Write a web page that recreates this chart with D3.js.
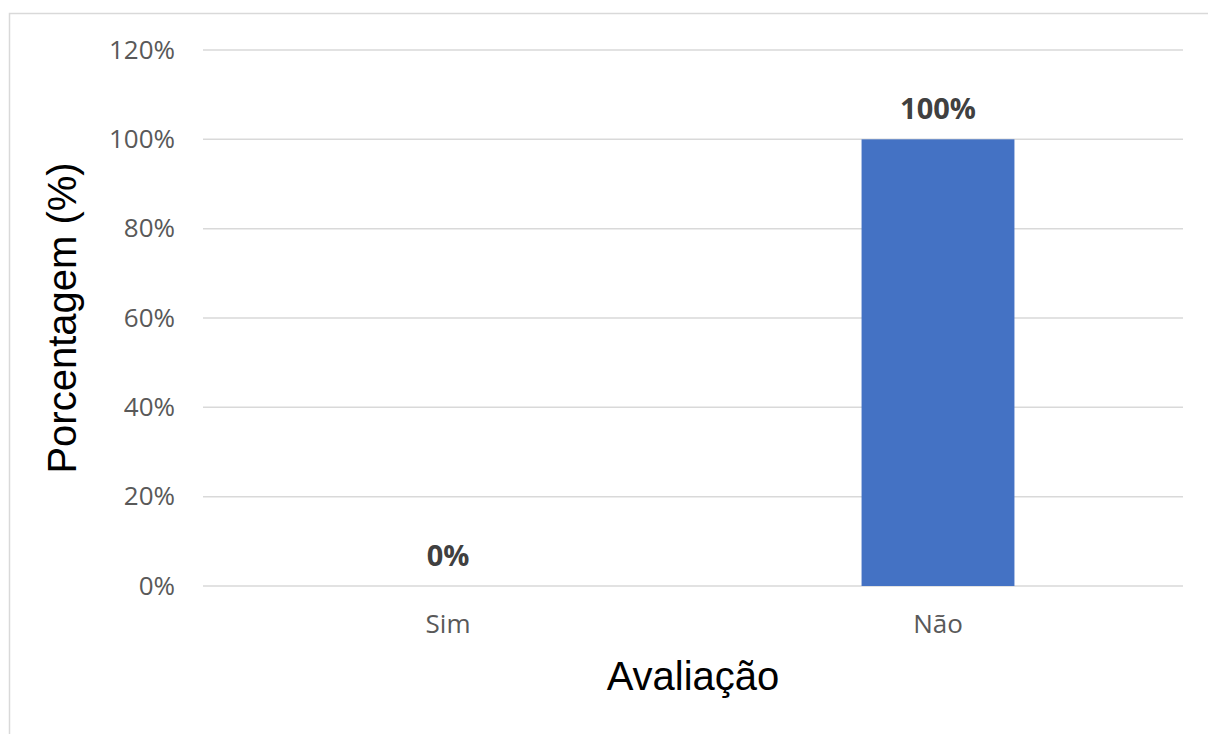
<!DOCTYPE html>
<html>
<head>
<meta charset="utf-8">
<script src="https://cdn.jsdelivr.net/npm/d3@7"></script>
<style>
  html, body { margin: 0; padding: 0; background: #fff; }
  svg { display: block; }
</style>
</head>
<body>
<svg id="chart" width="1208" height="734"></svg>
<script>
// Evaluation answers and their share of responses
const categories = ["Sim", "Não"];
const values = [0, 100];
const yTicks = [0, 20, 40, 60, 80, 100, 120];

const svg = d3.select("#chart");
const W = 1208, H = 734;
const margin = { left: 203, right: 25, top: 50, bottom: 148 };

// outer chart frame
svg.append("rect")
  .attr("x", 9.5).attr("y", 13.5)
  .attr("width", W + 20).attr("height", H + 20)
  .attr("fill", "#fff").attr("stroke", "#d9d9d9").attr("stroke-width", 1.5);

const x = d3.scaleBand()
  .domain(categories)
  .range([margin.left, W - margin.right])
  .paddingInner(0.688).paddingOuter(0.344);

const y = d3.scaleLinear()
  .domain([0, 120])
  .range([H - margin.bottom, margin.top]);

// horizontal gridlines
svg.append("g")
  .selectAll("line")
  .data(yTicks)
  .join("line")
  .attr("x1", margin.left).attr("x2", W - margin.right)
  .attr("y1", d => y(d)).attr("y2", d => y(d))
  .attr("stroke", "#d9d9d9").attr("stroke-width", 1.5);

// y axis tick labels
const yAxis = d3.axisLeft(y).tickValues(yTicks).tickFormat(d => d + "%").tickSize(0).tickPadding(0);
const gy = svg.append("g").attr("transform", `translate(175,0)`).call(yAxis);
gy.select(".domain").remove();
gy.selectAll("text")
  .attr("font-family", "'Open Sans', sans-serif")
  .attr("font-size", 26)
  .attr("fill", "#595959");

// bars
svg.append("g")
  .selectAll("rect")
  .data(values)
  .join("rect")
  .attr("x", (d, i) => x(categories[i]))
  .attr("width", x.bandwidth())
  .attr("y", d => y(d))
  .attr("height", d => y(0) - y(d))
  .attr("fill", "#4472c4");

// value labels
svg.append("g")
  .selectAll("text")
  .data(values)
  .join("text")
  .attr("x", (d, i) => x(categories[i]) + x.bandwidth() / 2)
  .attr("y", d => y(d) - 20)
  .attr("text-anchor", "middle")
  .attr("font-family", "'Open Sans', sans-serif")
  .attr("font-weight", "bold")
  .attr("font-size", 29)
  .attr("fill", "#404040")
  .text(d => d + "%");

// x axis category labels
const xAxis = d3.axisBottom(x).tickSize(0).tickPadding(0);
const gx = svg.append("g").attr("transform", `translate(0,${y(0) + 47})`).call(xAxis);
gx.select(".domain").remove();
gx.selectAll("text")
  .attr("dy", 0)
  .attr("font-family", "'Open Sans', sans-serif")
  .attr("font-size", 26)
  .attr("fill", "#595959");

// axis titles
svg.append("text")
  .attr("x", (margin.left + W - margin.right) / 2)
  .attr("y", 690)
  .attr("text-anchor", "middle")
  .attr("font-family", "Arial, 'Liberation Sans', sans-serif")
  .attr("font-size", 40)
  .attr("fill", "#000")
  .text("Avaliação");

svg.append("text")
  .attr("transform", `translate(76,${(y(0) + y(120)) / 2}) rotate(-90)`)
  .attr("text-anchor", "middle")
  .attr("font-family", "Arial, 'Liberation Sans', sans-serif")
  .attr("font-size", 40)
  .attr("fill", "#000")
  .text("Porcentagem (%)");
</script>
</body>
</html>
